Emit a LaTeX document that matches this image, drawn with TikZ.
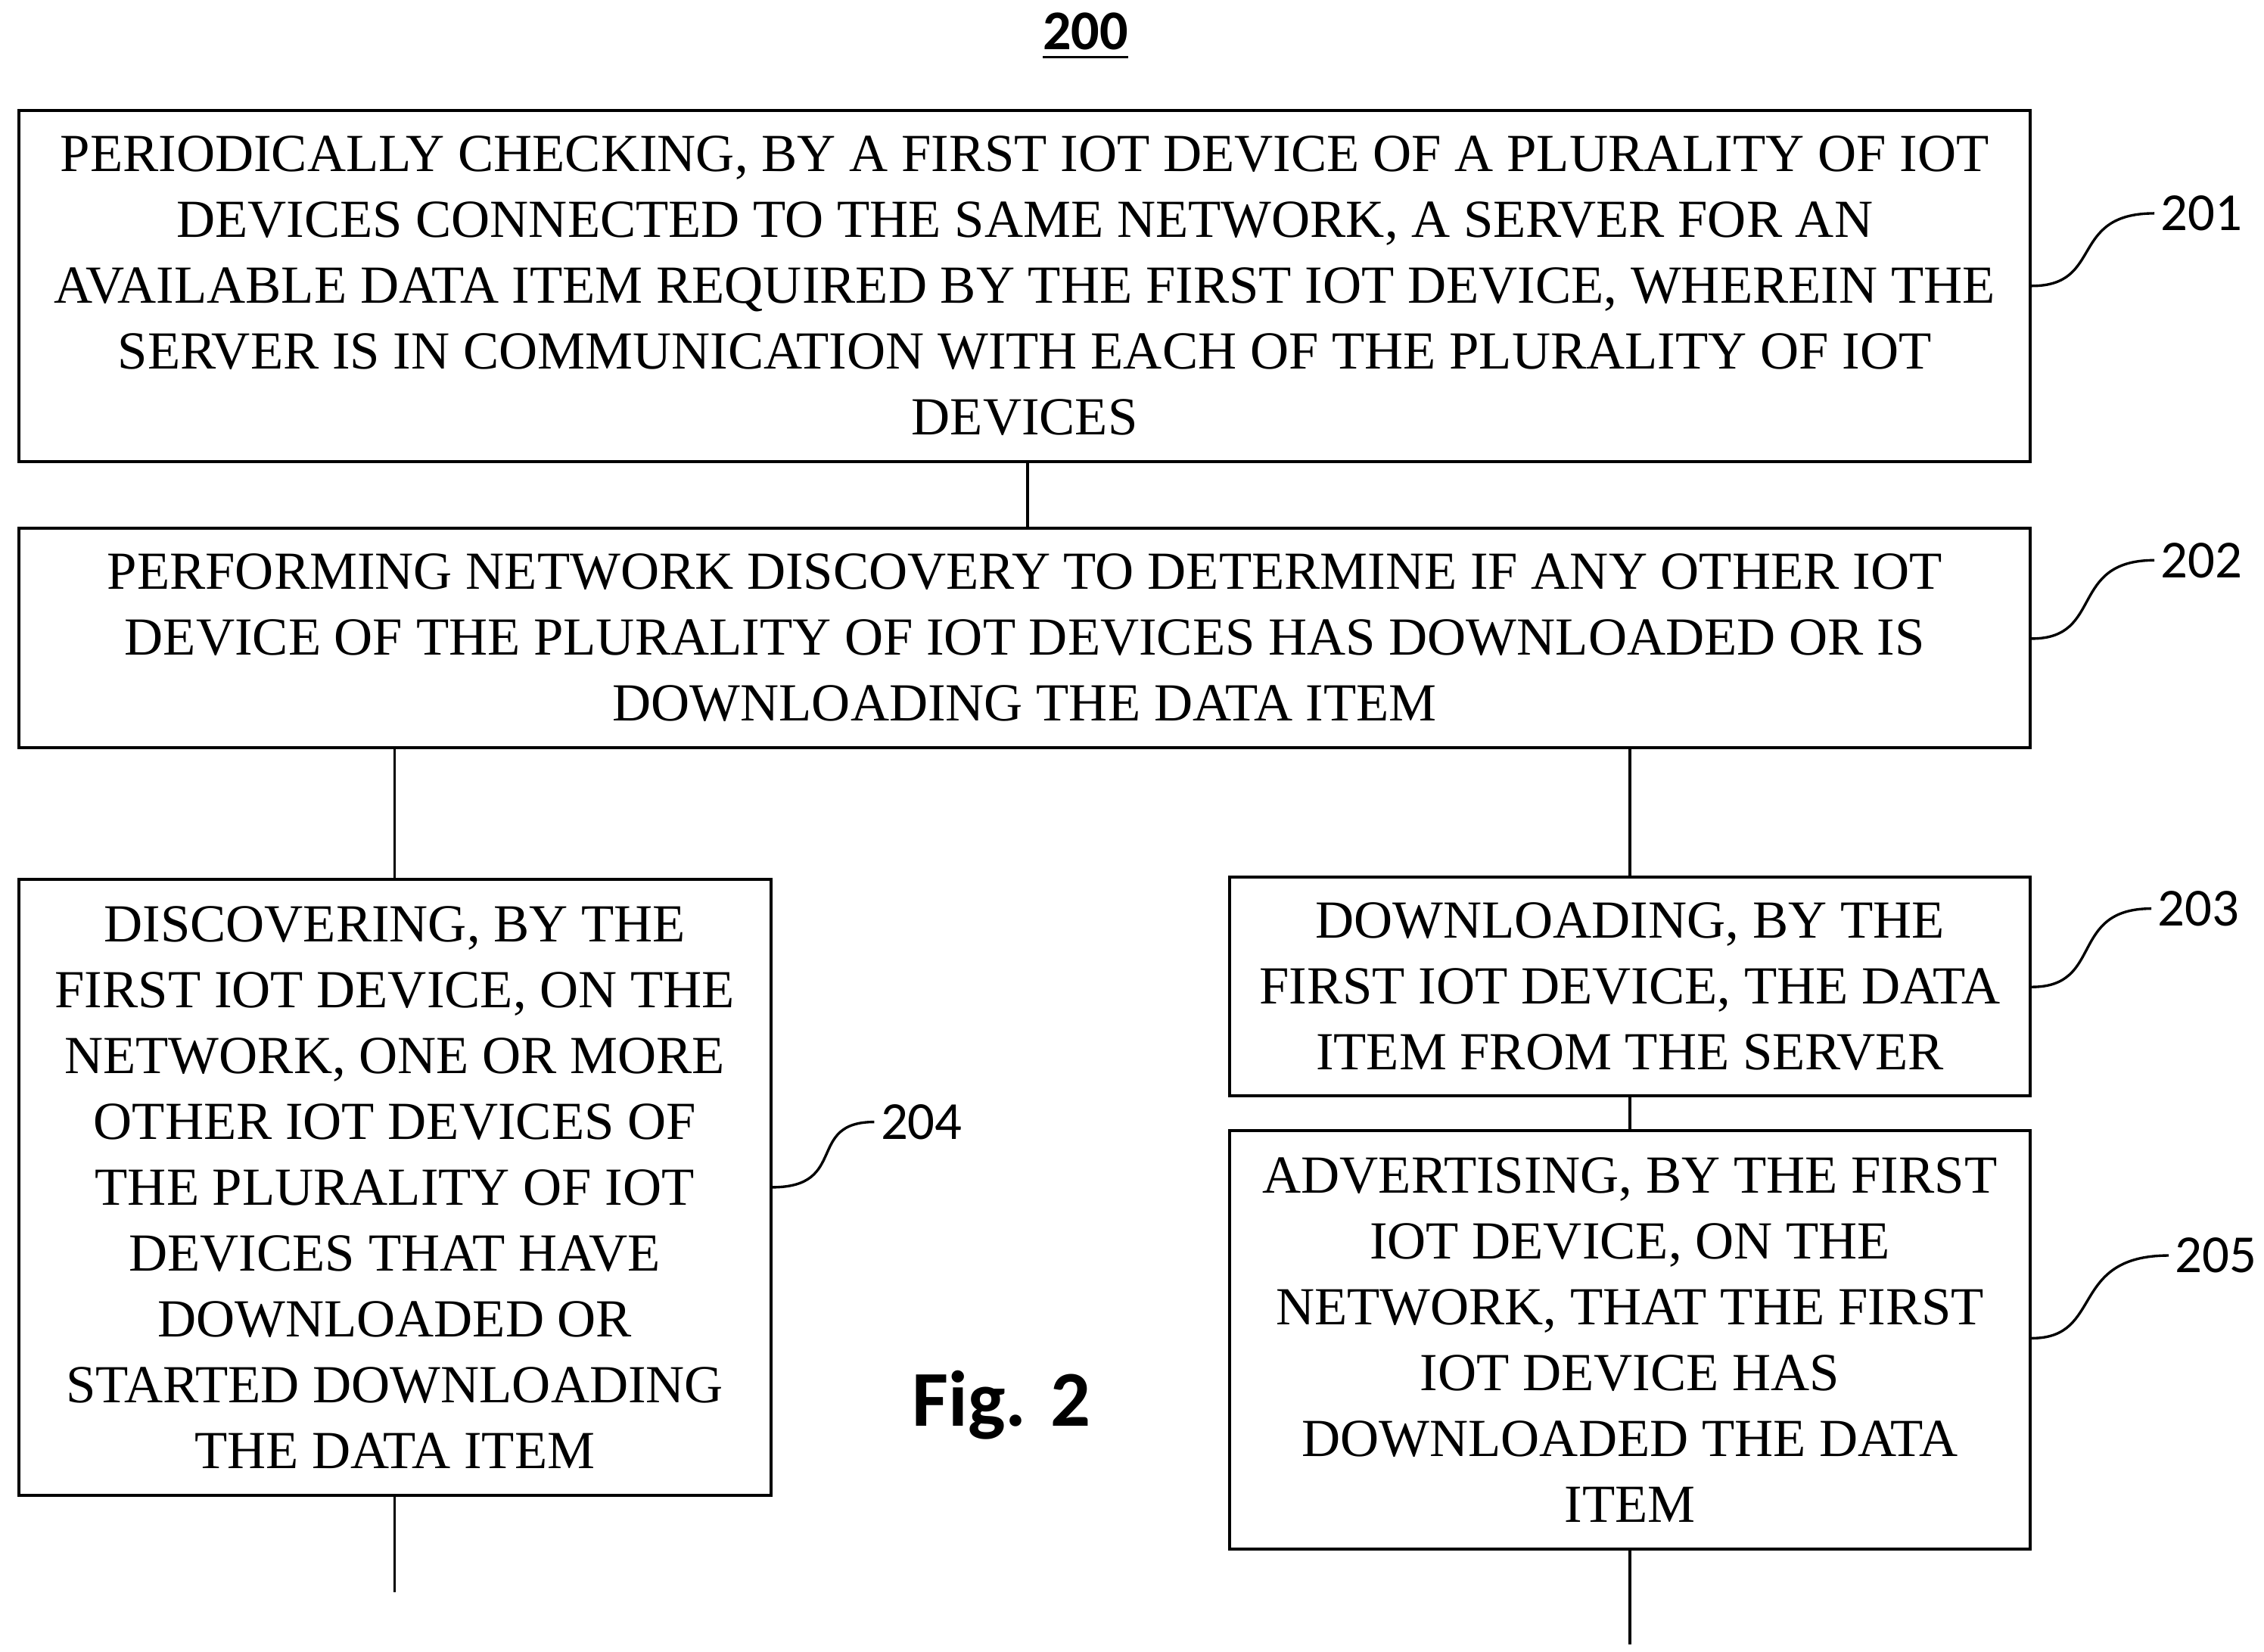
\documentclass[tikz,border=0pt]{standalone}
\usepackage{fontspec}
\setmainfont{Liberation Serif}
\newfontfamily\labelfont{Carlito}
\usetikzlibrary{positioning}
\tikzset{
	step box/.style={rectangle,draw,line width=0.6pt,anchor=north west,align=center,
		inner sep=2pt,font=\fontsize{10.5}{12.9}\selectfont},
	ref label/.style={font=\labelfont\fontsize{10.5}{12}\selectfont,inner sep=1pt},
	ref line/.style={line width=0.5pt}
}
\begin{document}
\begin{tikzpicture}[line width=0.6pt]
	\useasboundingbox (0,0) rectangle (15.6,-11.38);
	\node [font=\labelfont\bfseries\fontsize{11}{13}\selectfont] (title) at (7.48,-0.25) {\underline{200}};
	% steps
	\node [step box,minimum width=13.86cm,minimum height=2.42cm] (s201) at (0.12,-0.75)
		{PERIODICALLY CHECKING, BY A FIRST IOT DEVICE OF A PLURALITY OF IOT\\
		 DEVICES CONNECTED TO THE SAME NETWORK, A SERVER FOR AN\\
		 AVAILABLE DATA ITEM REQUIRED BY THE FIRST IOT DEVICE, WHEREIN THE\\
		 SERVER IS IN COMMUNICATION WITH EACH OF THE PLURALITY OF IOT\\
		 DEVICES};
	\node [step box,minimum width=13.86cm,minimum height=1.51cm] (s202) at (0.12,-3.63)
		{PERFORMING NETWORK DISCOVERY TO DETERMINE IF ANY OTHER IOT\\
		 DEVICE OF THE PLURALITY OF IOT DEVICES HAS DOWNLOADED OR IS\\
		 DOWNLOADING THE DATA ITEM};
	\node [step box,minimum width=5.18cm,minimum height=4.24cm] (s204) at (0.12,-6.05)
		{DISCOVERING, BY THE\\ FIRST IOT DEVICE, ON THE\\ NETWORK, ONE OR MORE\\
		 OTHER IOT DEVICES OF\\ THE PLURALITY OF IOT\\ DEVICES THAT HAVE\\
		 DOWNLOADED OR\\ STARTED DOWNLOADING\\ THE DATA ITEM};
	\node [step box,minimum width=5.52cm,minimum height=1.51cm] (s203) at (8.46,-6.03)
		{DOWNLOADING, BY THE\\ FIRST IOT DEVICE, THE DATA\\ ITEM FROM THE SERVER};
	\node [step box,minimum width=5.52cm,minimum height=2.88cm] (s205) at (8.46,-7.78)
		{ADVERTISING, BY THE FIRST\\ IOT DEVICE, ON THE\\ NETWORK, THAT THE FIRST\\
		 IOT DEVICE HAS\\ DOWNLOADED THE DATA\\ ITEM};
	\node [font=\labelfont\bfseries\fontsize{15.5}{19}\selectfont] (fig) at (6.9,-9.68) {Fig. 2};
	% connectors
	\coordinate (end204) at (2.73,-10.97);
	\coordinate (end205) at (11.25,-11.33);
	\draw [ref line] (s201.south -| 7.08,0) -- (s202.north -| 7.08,0);
	\draw [ref line] (s202.south -| s204.south) -- (s204.north);
	\draw [ref line] (s202.south -| s203.south) -- (s203.north);
	\draw [ref line] (s203.south) -- (s205.north);
	\draw [ref line] (s204.south) -- (end204 -| s204.south);
	\draw [ref line] (s205.south) -- (end205 -| s205.south);
	% reference numerals
	\node [ref label] (l201) at (15.17,-1.47) {201};
	\node [ref label] (l202) at (15.17,-3.86) {202};
	\node [ref label] (l203) at (15.15,-6.26) {203};
	\node [ref label] (l204) at (6.35,-7.73) {204};
	\node [ref label] (l205) at (15.27,-8.65) {205};
	\draw [ref line] (14.0,-1.97) .. controls (14.5,-1.97) and (14.25,-1.47) .. (l201.west);
	\draw [ref line] (14.0,-4.40) .. controls (14.5,-4.40) and (14.25,-3.86) .. (l202.west);
	\draw [ref line] (14.0,-6.80) .. controls (14.5,-6.80) and (14.25,-6.26) .. (l203.west);
	\draw [ref line] (5.32,-8.18) .. controls (5.85,-8.18) and (5.55,-7.73) .. (l204.west);
	\draw [ref line] (14.0,-9.22) .. controls (14.5,-9.22) and (14.25,-8.65) .. (l205.west);
\end{tikzpicture}
\end{document}
